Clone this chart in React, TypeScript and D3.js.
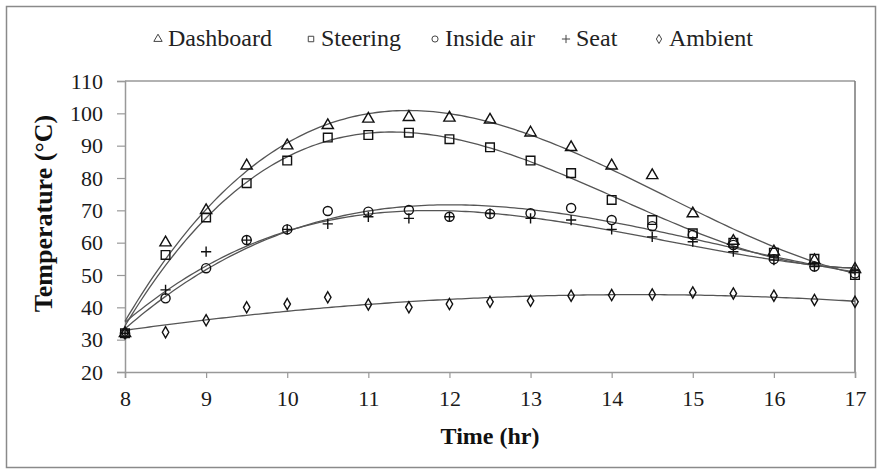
import React, { useEffect, useRef } from "react";
import * as d3 from "d3";

// Time of day (hr) and measured temperatures (°C)
const hours = [8, 8.5, 9, 9.5, 10, 10.5, 11, 11.5, 12, 12.5, 13, 13.5, 14, 14.5, 15, 15.5, 16, 16.5, 17];
const dashboard = [32, 60, 70, 83.8, 90, 96.3, 98.3, 98.8, 98.6, 98, 94, 89.5, 83.8, 80.8, 69, 60.5, 57.2, 54.5, 51.8];
const steering = [32, 56.2, 67.8, 78.4, 85.4, 92.5, 93.3, 94, 92, 89.5, 85.4, 81.5, 73.2, 67, 62.9, 60, 56.9, 55, 50];
const insideAir = [32, 42.8, 52.1, 60.8, 64.1, 69.8, 69.6, 70.1, 68, 68.9, 69.1, 70.7, 67, 65.1, 62.4, 59.3, 54.9, 52.6, 50.5];
const seat = [32, 45.4, 57.2, 60.8, 64.1, 65.8, 68, 67.5, 68, 69, 67.5, 67, 64.1, 61.8, 60.3, 57.2, 54.6, 52.6, 51.5];
const ambient = [32, 32.3, 36, 40, 41, 43.1, 40.9, 40, 41, 41.7, 42, 43.6, 43.8, 44, 44.6, 44.3, 43.6, 42.3, 41.7];

const seriesNames = ["Dashboard", "Steering", "Inside air", "Seat", "Ambient"];
const xTicks = [8, 9, 10, 11, 12, 13, 14, 15, 16, 17];
const yTicks = [20, 30, 40, 50, 60, 70, 80, 90, 100, 110];

// least squares polynomial trendline
function polyFit(xs: number[], ys: number[], order: number) {
  const c = 12.5, s = 4.5;
  const n = order + 1;
  const A: number[][] = Array.from({ length: n }, () => new Array(n + 1).fill(0));
  xs.forEach((x, k) => {
    const t = (x - c) / s;
    for (let i = 0; i < n; i++) {
      for (let j = 0; j < n; j++) A[i][j] += Math.pow(t, i + j);
      A[i][n] += Math.pow(t, i) * ys[k];
    }
  });
  for (let i = 0; i < n; i++) {
    let p = i;
    for (let r = i + 1; r < n; r++) if (Math.abs(A[r][i]) > Math.abs(A[p][i])) p = r;
    [A[i], A[p]] = [A[p], A[i]];
    for (let r = 0; r < n; r++) {
      if (r === i) continue;
      const f = A[r][i] / A[i][i];
      for (let k = i; k <= n; k++) A[r][k] -= f * A[i][k];
    }
  }
  const coef = A.map((row, i) => row[n] / row[i]);
  return (x: number) => {
    const t = (x - c) / s;
    return coef.reduce((acc, a, i) => acc + a * Math.pow(t, i), 0);
  };
}

const App = () => {
  const ref = useRef<SVGSVGElement>(null);

  useEffect(() => {
    const svg = d3.select(ref.current);
    svg.selectAll("*").remove();

    const font = "Times New Roman, Liberation Serif, Times, serif";
    const margin = { top: 81, right: 25, bottom: 100, left: 125 };
    const W = 880, H = 472;
    const width = W - margin.left - margin.right;
    const height = H - margin.top - margin.bottom;

    // outer frame
    svg.append("rect")
      .attr("x", 6.5).attr("y", 6.5)
      .attr("width", 869).attr("height", 461)
      .attr("fill", "white").attr("stroke", "#8a8a8a").attr("stroke-width", 1.5);

    const g = svg.append("g").attr("transform", `translate(${margin.left},${margin.top})`);

    const x = d3.scaleLinear().domain([8, 17]).range([0, width]);
    const y = d3.scaleLinear().domain([20, 110]).range([height, 0]);

    // plot border lines (top and right)
    g.append("line").attr("x1", 0).attr("x2", width).attr("y1", 0).attr("y2", 0)
      .attr("stroke", "#999").attr("stroke-width", 1.5);
    g.append("line").attr("x1", width).attr("x2", width).attr("y1", 0).attr("y2", height)
      .attr("stroke", "#777").attr("stroke-width", 1.5);

    const xAxis = g.append("g")
      .attr("transform", `translate(0,${height})`)
      .call(d3.axisBottom(x).tickValues(xTicks).tickSize(6).tickPadding(12).tickFormat(d3.format("d")));
    const yAxis = g.append("g")
      .call(d3.axisLeft(y).tickValues(yTicks).tickSize(8).tickPadding(14).tickFormat(d3.format("d")));

    [xAxis, yAxis].forEach((ax) => {
      ax.attr("font-family", null).attr("font-size", null);
      ax.select(".domain").attr("stroke", "#999").attr("stroke-width", 1.5);
      ax.selectAll(".tick line").attr("stroke", "#999").attr("stroke-width", 1.2);
      ax.selectAll("text")
        .style("font-family", font).style("font-size", "22px").attr("fill", "#1a1a1a");
    });

    // axis titles
    g.append("text")
      .attr("x", width / 2).attr("y", height + 72)
      .attr("text-anchor", "middle")
      .style("font-family", font).style("font-size", "24px").style("font-weight", "bold").attr("fill", "#111")
      .text("Time (hr)");
    g.append("text")
      .attr("transform", `translate(${-73},${height / 2 - 13}) rotate(-90)`)
      .attr("text-anchor", "middle")
      .style("font-family", font).style("font-size", "26px").style("font-weight", "bold").attr("fill", "#111")
      .text("Temperature (\u00B0C)");

    const allSeries = [dashboard, steering, insideAir, seat, ambient];
    const orders = [3, 3, 3, 3, 2];
    const symbols = [d3.symbolTriangle, d3.symbolSquare, d3.symbolCircle, d3.symbolPlus, d3.symbolDiamond];
    const sizes = [55, 75, 65, 36, 36];

    // trendlines
    allSeries.forEach((vals, i) => {
      const f = polyFit(hours, vals, orders[i]);
      const pts = d3.range(8, 17.001, 0.05).map((h) => [h, f(h)] as [number, number]);
      g.append("path")
        .datum(pts)
        .attr("fill", "none")
        .attr("stroke", "#555")
        .attr("stroke-width", 1.3)
        .attr("d", d3.line<[number, number]>().x((d) => x(d[0])).y((d) => y(d[1])));
    });

    // markers
    allSeries.forEach((vals, i) => {
      const sym = d3.symbol().type(symbols[i]).size(sizes[i]);
      g.append("g").selectAll("path")
        .data(vals)
        .enter()
        .append("path")
        .attr("d", sym as any)
        .attr("transform", (d, k) => `translate(${x(hours[k])},${y(d)})`)
        .attr("fill", "none")
        .attr("stroke", "#111")
        .attr("stroke-width", 1.4);
    });

    // legend
    const legendX = [158, 311, 435, 566, 659];
    const lg = svg.append("g");
    seriesNames.forEach((name, i) => {
      const sym = d3.symbol().type(symbols[i]).size(i >= 3 ? 24 : 30);
      lg.append("path")
        .attr("d", sym as any)
        .attr("transform", `translate(${legendX[i]},${39})`)
        .attr("fill", "none").attr("stroke", "#444").attr("stroke-width", 1);
      lg.append("text")
        .attr("x", legendX[i] + 10).attr("y", 46)
        .style("font-family", font).style("font-size", "24px").attr("fill", "#222")
        .text(name);
    });
  }, []);

  return (
    <svg ref={ref} width={880} height={472} style={{ position: "absolute", left: 0, top: 0, background: "white" }} />
  );
};

export default App;
